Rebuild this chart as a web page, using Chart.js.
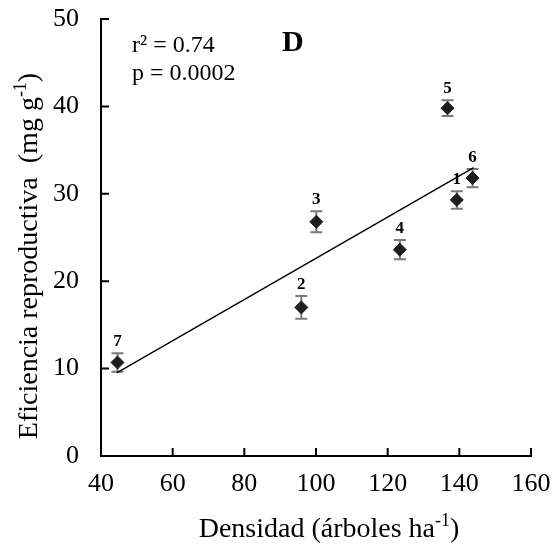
<!DOCTYPE html>
<html>
<head>
<meta charset="utf-8">
<script src="https://cdn.jsdelivr.net/npm/chart.js@4"></script>
<style>
  html, body { margin: 0; padding: 0; background: #fff; }
  #wrap { width: 560px; height: 546px; }
</style>
</head>
<body>
<div id="wrap"><canvas id="grafico" width="560" height="546"></canvas></div>
<script>
// Datos
const etiquetas = ['1', '2', '3', '4', '5', '6', '7'];
const densidad = [139.3, 95.9, 100.1, 123.4, 136.7, 143.7, 44.6];
const eficiencia = [29.3, 17.0, 26.8, 23.6, 39.8, 31.8, 10.7];
const errorEst = [1.0, 1.3, 1.2, 1.1, 0.9, 1.05, 1.05];
// Recta de regresión (extremos)
const regX = [44.4, 144.0];
const regY = [9.5, 33.0];
const ticksX = [40, 60, 80, 100, 120, 140, 160];
const ticksY = [0, 10, 20, 30, 40, 50];

const fuente = '"Liberation Serif", "Times New Roman", serif';

// escribe un texto con superíndice "-1" centrado en (cx, by)
function textoSup(ctx, t1, t2, t3, cx, by, tam) {
    const tamSup = Math.round(tam * 0.65);
    ctx.font = tam + 'px ' + fuente;
    const w1 = ctx.measureText(t1).width, w3 = ctx.measureText(t3).width;
    ctx.font = tamSup + 'px ' + fuente;
    const w2 = ctx.measureText(t2).width;
    const sx = cx - (w1 + w2 + w3) / 2;
    ctx.font = tam + 'px ' + fuente;
    ctx.fillText(t1, sx, by);
    ctx.font = tamSup + 'px ' + fuente;
    ctx.fillText(t2, sx + w1, by - tam * 0.4);
    ctx.font = tam + 'px ' + fuente;
    ctx.fillText(t3, sx + w1 + w2, by);
}

// Dibuja barras de error, números de punto, marcas internas y textos
const extras = {
    id: 'extras',
    beforeDatasetsDraw(chart) {
        const ctx = chart.ctx;
        const x = chart.scales.x, y = chart.scales.y;
        ctx.save();
        ctx.strokeStyle = '#7a7a7a';
        ctx.lineWidth = 2;
        for (let i = 0; i < densidad.length; i++) {
            const px = x.getPixelForValue(densidad[i]);
            const top = y.getPixelForValue(eficiencia[i] + errorEst[i]);
            const bot = y.getPixelForValue(eficiencia[i] - errorEst[i]);
            ctx.beginPath();
            ctx.moveTo(px, top); ctx.lineTo(px, bot);
            ctx.moveTo(px - 6, top); ctx.lineTo(px + 6, top);
            ctx.moveTo(px - 6, bot); ctx.lineTo(px + 6, bot);
            ctx.stroke();
        }
        ctx.restore();
    },
    afterDraw(chart) {
        const ctx = chart.ctx;
        const x = chart.scales.x, y = chart.scales.y;
        const area = chart.chartArea;
        ctx.save();
        // marcas hacia dentro
        ctx.strokeStyle = '#000';
        ctx.lineWidth = 2;
        ctx.beginPath();
        ticksX.slice(1).forEach(v => {
            const px = x.getPixelForValue(v);
            ctx.moveTo(px, area.bottom); ctx.lineTo(px, area.bottom - 8);
        });
        ticksY.slice(1).forEach(v => {
            const py = y.getPixelForValue(v);
            ctx.moveTo(area.left, py); ctx.lineTo(area.left + 8, py);
        });
        ctx.stroke();

        // números de los puntos
        ctx.fillStyle = '#000';
        ctx.font = 'bold 17px ' + fuente;
        ctx.textAlign = 'center';
        ctx.textBaseline = 'alphabetic';
        for (let i = 0; i < densidad.length; i++) {
            const px = x.getPixelForValue(densidad[i]);
            const top = y.getPixelForValue(eficiencia[i] + errorEst[i]);
            ctx.fillText(etiquetas[i], px, top - 7);
        }

        // estadísticos y letra del panel
        ctx.textAlign = 'left';
        ctx.font = '24px ' + fuente;
        ctx.fillText('r² = 0.74', 132, 52);
        ctx.fillText('p = 0.0002', 132, 80);
        ctx.font = 'bold 30px ' + fuente;
        ctx.fillText('D', 282, 51);

        // título eje X
        textoSup(ctx, 'Densidad (árboles ha', '-1', ')', 329, 537, 28);

        // título eje Y
        ctx.translate(37, 256);
        ctx.rotate(-Math.PI / 2);
        textoSup(ctx, 'Eficiencia reproductiva  (mg g', '-1', ')', 0, 0, 28);
        ctx.restore();
    }
};

const ctx = document.getElementById('grafico').getContext('2d');
new Chart(ctx, {
    type: 'scatter',
    data: {
        datasets: [{
            label: 'Regresión',
            type: 'line',
            data: regX.map((v, i) => ({ x: v, y: regY[i] })),
            borderColor: '#000',
            borderWidth: 1.4,
            pointRadius: 0,
            fill: false,
            order: 2
        }, {
            label: 'Sitios',
            data: densidad.map((v, i) => ({ x: v, y: eficiencia[i] })),
            pointStyle: 'rectRot',
            pointRadius: 6.5,
            backgroundColor: '#1e1e1e',
            borderColor: '#1e1e1e',
            borderWidth: 1,
            order: 1
        }]
    },
    options: {
        responsive: false,
        animation: false,
        events: [],
        layout: { padding: { top: 19, right: 29, left: 0, bottom: 0 } },
        plugins: { legend: { display: false }, tooltip: { enabled: false } },
        scales: {
            x: {
                type: 'linear',
                min: 40, max: 160,
                afterBuildTicks: s => { s.ticks = ticksX.map(v => ({ value: v })); },
                afterFit: s => { s.height = 90; s.paddingLeft = 0; s.paddingRight = 0; },
                grid: { display: false, drawTicks: false },
                border: { display: true, color: '#000', width: 2 },
                ticks: { color: '#000', font: { family: fuente, size: 26 }, padding: 13, maxRotation: 0 }
            },
            y: {
                type: 'linear',
                min: 0, max: 50,
                afterBuildTicks: s => { s.ticks = ticksY.map(v => ({ value: v })); },
                afterFit: s => { s.width = 101; s.paddingTop = 0; s.paddingBottom = 0; },
                grid: { display: false, drawTicks: false },
                border: { display: true, color: '#000', width: 2 },
                ticks: { color: '#000', font: { family: fuente, size: 26 }, padding: 22 }
            }
        }
    },
    plugins: [extras]
});
</script>
</body>
</html>
